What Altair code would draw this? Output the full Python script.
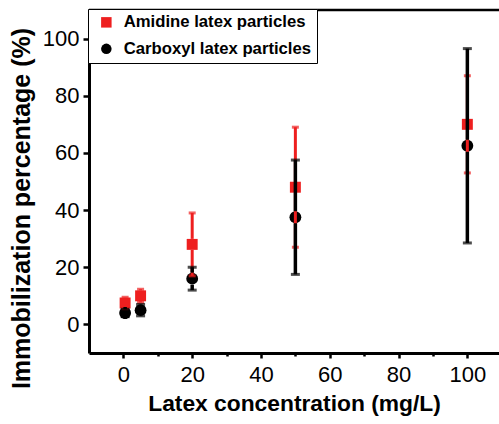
import altair as alt
import pandas as pd

# ---- data ----
conc = [0.5, 5, 20, 50, 100]
amidine_mean = [7.5, 10.0, 28.0, 48.0, 70.0]
amidine_err = [2.0, 2.3, 11.0, 21.0, 17.0]
carboxyl_mean = [4.0, 5.0, 16.0, 37.5, 62.5]
carboxyl_err = [1.3, 2.0, 4.0, 20.0, 34.0]
series_names = ["Amidine latex particles", "Carboxyl latex particles"]
x_ticks = [0, 10, 20, 30, 40, 50, 60, 70, 80, 90, 100]
y_ticks = [0, 10, 20, 30, 40, 50, 60, 70, 80, 90, 100]

RED = "#ee1f1f"
BLACK = "#000000"
FONT = "Liberation Sans"

rows = []
for c, m, e in zip(conc, amidine_mean, amidine_err):
    rows.append({"conc": c, "mean": m, "lo": m - e, "hi": m + e, "series": series_names[0]})
for c, m, e in zip(conc, carboxyl_mean, carboxyl_err):
    rows.append({"conc": c, "mean": m, "lo": m - e, "hi": m + e, "series": series_names[1]})
df = pd.DataFrame(rows)

xscale = alt.Scale(domain=[-10, 109.2], nice=False, zero=False)
yscale = alt.Scale(domain=[-10, 110], nice=False, zero=False)

xaxis = alt.Axis(
    values=x_ticks,
    labelExpr="datum.value % 20 == 0 ? datum.label : ''",
    tickSize={"condition": {"test": "datum.value % 20 == 0", "value": 5}, "value": 3},
    title="Latex concentration (mg/L)",
    titleFontSize=22.8,
    grid=False,
    labelPadding=6,
    titlePadding=7,
)
yaxis = alt.Axis(
    values=y_ticks,
    labelExpr="datum.value % 20 == 0 ? datum.label : ''",
    tickSize={"condition": {"test": "datum.value % 20 == 0", "value": 6}, "value": 3},
    title="Immobilization percentage (%)",
    titleFontSize=25,
    titleY=198,
    grid=False,
    labelPadding=4,
    titlePadding=8,
)

X = alt.X("conc:Q", scale=xscale, axis=xaxis)
Y = alt.Y("mean:Q", scale=yscale, axis=yaxis)

color = alt.Color(
    "series:N",
    scale=alt.Scale(domain=series_names, range=[RED, BLACK]),
    legend=alt.Legend(title=None),
)
shape = alt.Shape(
    "series:N",
    scale=alt.Scale(domain=series_names, range=["square", "circle"]),
    legend=alt.Legend(title=None),
)

base = alt.Chart(df)
amid = base.transform_filter(alt.datum.series == series_names[0])
carb = base.transform_filter(alt.datum.series == series_names[1])

red_pts = amid.mark_point(filled=True, opacity=1, size=120).encode(x=X, y=Y, color=color, shape=shape)
blk_pts = carb.mark_point(filled=True, opacity=1, size=140).encode(x=X, y=Y, color=color, shape=shape)


def bars(src, col, width, cap, capw, gap):
    # error bar drawn from the symbol edge outwards, as in the original
    upper = src.mark_rule(color=col, strokeWidth=width, y2Offset=-gap).encode(
        x=X, y=alt.Y("hi:Q", scale=yscale), y2="mean:Q"
    )
    lower = src.mark_rule(color=col, strokeWidth=width, yOffset=gap).encode(
        x=X, y=alt.Y("mean:Q", scale=yscale), y2="lo:Q"
    )
    t_hi = src.mark_tick(color=col, orient="horizontal", size=cap, thickness=capw).encode(
        x=X, y=alt.Y("hi:Q", scale=yscale)
    )
    t_lo = src.mark_tick(color=col, orient="horizontal", size=cap, thickness=capw).encode(
        x=X, y=alt.Y("lo:Q", scale=yscale)
    )
    return [upper, lower, t_hi, t_lo]


top_line = alt.Chart(pd.DataFrame({"a": [0]})).mark_rule(color=BLACK, strokeWidth=2.5).encode(
    x=alt.value(0), x2=alt.value(410), y=alt.value(0)
)

layers = (
    [blk_pts, red_pts]
    + bars(amid, RED, 3, 7, 3, 5.5)
    + bars(carb, BLACK, 3.5, 9, 3, 6)
    + [top_line]
)

chart = (
    alt.layer(*layers)
    .properties(
        width=410,
        height=343,
        autosize=alt.AutoSizeParams(type="none"),
        padding={"left": 89, "top": 10, "right": 0, "bottom": 71},
    )
    .configure_view(strokeWidth=0)
    .configure_axis(
        domainColor=BLACK,
        domainWidth=3,
        tickColor=BLACK,
        tickWidth=2.5,
        labelFont=FONT,
        labelFontSize=22,
        labelColor=BLACK,
        titleFont=FONT,
        titleFontWeight="bold",
        titleColor=BLACK,
    )
    .configure_legend(
        orient="none",
        legendX=-1,
        legendY=-1,
        fillColor="white",
        strokeColor=BLACK,
        strokeWidth=1,
        padding=5,
        cornerRadius=0,
        labelFont=FONT,
        labelFontSize=16.7,
        labelFontWeight="bold",
        labelColor=BLACK,
        labelOffset=9,
        symbolSize=110,
        symbolOffset=5,
        symbolStrokeWidth=0,
        rowPadding=8.5,
        labelLimit=400,
    )
)

chart.save("out.html", embed_options={"renderer": "svg", "actions": False})
